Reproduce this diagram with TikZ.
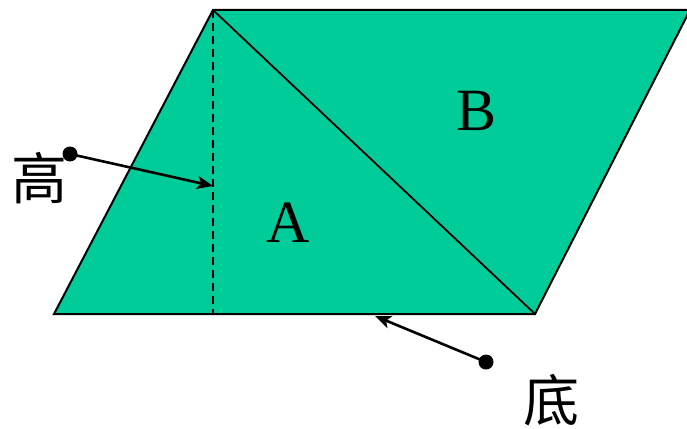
\documentclass[tikz,border=0pt]{standalone}
\usepackage{fontspec}
\setmainfont{Liberation Serif}
\newfontfamily\cjk{Noto Sans CJK SC}
\usetikzlibrary{arrows.meta}
\definecolor{para}{HTML}{00CC99}
\begin{document}
\begin{tikzpicture}[x=1pt,y=-1pt,
  edge/.style={line width=2pt},
  pointer/.style={line width=2.6pt,-{Stealth[length=16pt,width=13pt,inset=4pt]}},
  dotmark/.style={circle,fill=black,inner sep=0pt,minimum size=15pt},
  lbl/.style={font=\fontsize{60}{60}\selectfont},
  cjklbl/.style={font=\cjk\fontsize{56}{56}\selectfont}]
\useasboundingbox (0,0) rectangle (687,428);
\coordinate (tl) at (213,10);
\coordinate (tr) at (690,10);
\coordinate (br) at (535,314);
\coordinate (bl) at (54,314);
\coordinate (foot) at (213,314);
\fill[para] (tl) -- (tr) -- (br) -- (bl) -- cycle;
\draw[edge] (bl) -- (tl) -- (tr) -- (br) -- cycle;
\draw[line width=1.8pt] (tl) -- (br);
\draw[line width=1.8pt,dash pattern=on 8pt off 5pt] (tl) -- (foot);
\node[lbl] (A) at (288,223) {A};
\node[lbl] (B) at (477,111) {B};
\node[cjklbl] (gao) at (40,178) {高};
\node[cjklbl] (di) at (551,400) {底};
\node[dotmark] (d1) at (70,154) {};
\node[dotmark] (d2) at (486,362) {};
\coordinate (h) at (213,186);
\coordinate (b) at (375,316);
\draw[pointer] (d1.center) -- (h);
\draw[pointer] (d2.center) -- (b);
\end{tikzpicture}
\end{document}
